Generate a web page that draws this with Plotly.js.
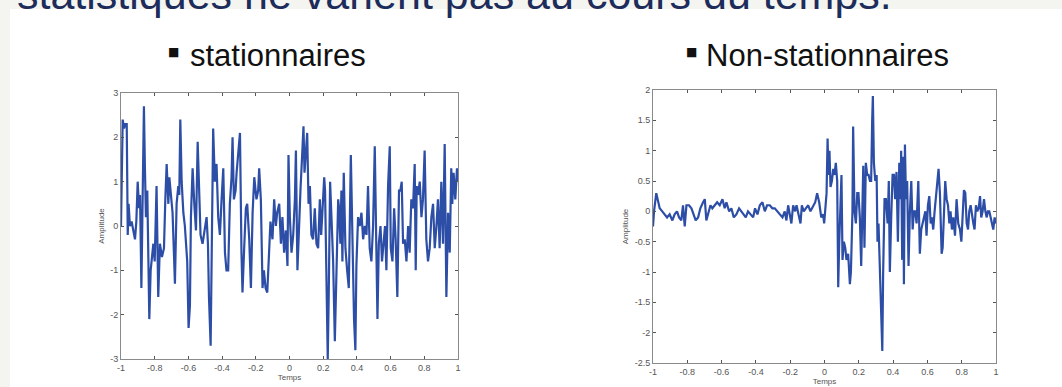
<!DOCTYPE html>
<html>
<head>
<meta charset="utf-8">
<script src="https://cdn.plot.ly/plotly-3.0.1.min.js"></script>
<style>
html,body{margin:0;padding:0;background:#f4f5f0;}
#chart{width:1062px;height:387px;}
</style>
</head>
<body>
<div id="chart"></div>
<script>
// ---- Data ----
const slideText = "statistiques ne varient pas au cours du temps.";
const titleLeft = "stationnaires";
const titleRight = "Non-stationnaires";
const xAxisTitle = "Temps";
const yAxisTitle = "Amplitude";

const timeStationary = [
-1.000,-0.996,-0.990,-0.982,-0.974,-0.966,-0.960,-0.955,-0.947,-0.937,-0.927,-0.917,-0.909,-0.901,-0.893,-0.887,-0.879,-0.872,-0.864,-0.858,
-0.852,-0.844,-0.838,-0.832,-0.824,-0.816,-0.808,-0.800,-0.794,-0.789,-0.779,-0.769,-0.757,-0.745,-0.737,-0.729,-0.719,-0.713,-0.706,-0.694,
-0.686,-0.680,-0.670,-0.660,-0.654,-0.648,-0.640,-0.630,-0.621,-0.613,-0.607,-0.599,-0.591,-0.585,-0.581,-0.575,-0.565,-0.555,-0.545,-0.536,
-0.528,-0.516,-0.506,-0.492,-0.484,-0.478,-0.468,-0.460,-0.453,-0.443,-0.433,-0.423,-0.413,-0.403,-0.393,-0.383,-0.374,-0.364,-0.354,-0.344,
-0.338,-0.330,-0.320,-0.314,-0.304,-0.294,-0.285,-0.279,-0.269,-0.259,-0.251,-0.239,-0.229,-0.219,-0.209,-0.196,-0.186,-0.180,-0.170,-0.160,
-0.152,-0.142,-0.132,-0.123,-0.113,-0.101,-0.091,-0.081,-0.073,-0.061,-0.051,-0.042,-0.032,-0.022,-0.012,-0.006,0.002,0.012,0.022,0.032,
0.038,0.047,0.057,0.065,0.075,0.083,0.089,0.097,0.105,0.113,0.121,0.130,0.140,0.150,0.160,0.170,0.180,0.188,0.196,0.206,
0.211,0.219,0.227,0.233,0.241,0.249,0.259,0.269,0.279,0.289,0.294,0.302,0.308,0.314,0.322,0.332,0.342,0.352,0.364,0.374,
0.383,0.391,0.397,0.407,0.417,0.427,0.437,0.447,0.457,0.466,0.476,0.486,0.496,0.506,0.516,0.522,0.530,0.540,0.549,0.557,
0.567,0.575,0.585,0.595,0.601,0.611,0.621,0.630,0.640,0.650,0.658,0.666,0.674,0.684,0.694,0.704,0.713,0.723,0.733,0.743,
0.749,0.755,0.763,0.773,0.783,0.792,0.802,0.812,0.822,0.832,0.842,0.852,0.862,0.872,0.881,0.891,0.901,0.911,0.921,0.931,
0.941,0.951,0.960,0.966,0.974,0.984,0.994,1.000
];
const ampStationary = [
0.0,1.5,2.4,2.2,2.3,2.3,-0.2,0.5,0.0,0.1,-0.1,-0.3,0.1,1.0,0.4,0.7,-1.4,0.5,2.7,1.3,
0.2,0.8,-0.9,-2.1,-1.0,-0.6,-0.4,-0.8,0.5,0.9,-1.6,-0.4,-0.7,-0.5,0.6,1.4,0.5,1.1,0.8,0.3,
-0.6,-1.3,0.5,0.9,0.7,2.4,1.0,0.3,0.0,-0.5,-0.8,-2.3,-1.8,0.2,0.8,1.3,0.5,-0.1,1.9,0.5,
-0.2,-0.4,-0.1,0.2,-0.4,-1.6,-2.7,-0.5,2.2,1.0,1.4,0.2,-0.2,0.6,1.3,-0.6,-1.0,-1.0,0.5,1.1,
2.0,0.6,0.8,1.2,1.7,2.1,-0.6,-1.5,-0.5,0.4,0.5,-0.3,-1.4,0.3,1.1,0.6,0.8,1.3,0.6,-1.4,
-1.0,-1.4,-1.5,-0.7,0.1,-0.3,0.6,0.0,0.3,0.5,-0.4,0.2,-0.6,-0.1,-0.9,1.6,0.2,-0.6,-0.2,0.6,
1.7,-1.0,0.2,0.8,1.6,2.25,1.2,1.8,2.1,0.5,0.9,-0.2,-0.3,0.4,-0.4,-0.5,0.6,-0.2,0.3,1.1,
0.8,-0.8,-3.0,-1.5,1.0,0.2,-0.8,-2.6,-1.2,0.6,0.4,-0.4,0.8,-0.8,1.2,-0.5,-1.0,-1.4,1.6,-0.5,
-2.1,-2.8,-0.9,0.2,0.0,0.3,-0.3,0.0,-0.2,0.9,-0.5,-0.8,0.0,1.8,-0.2,-2.1,-0.4,0.0,-0.8,-0.4,
0.0,-1.0,0.9,1.8,-0.5,-0.8,0.4,-0.3,-1.6,0.8,0.8,1.0,-0.4,-0.3,-0.8,0.0,-0.6,0.6,0.4,1.4,
-1.0,0.9,0.7,1.0,0.2,0.6,1.7,-0.3,-0.8,-0.5,0.2,0.5,-0.5,0.0,0.6,-0.5,1.0,-0.4,1.85,-1.6,
0.3,-0.6,1.3,0.5,1.2,0.6,1.3,1.0
];

const timeNonStationary = [
-1.000,-0.994,-0.981,-0.971,-0.961,-0.946,-0.932,-0.918,-0.903,-0.887,-0.874,-0.860,-0.848,-0.835,-0.825,-0.815,-0.805,-0.790,-0.776,-0.763,
-0.751,-0.737,-0.724,-0.708,-0.698,-0.689,-0.679,-0.665,-0.654,-0.640,-0.626,-0.611,-0.595,-0.582,-0.572,-0.556,-0.543,-0.529,-0.514,-0.498,
-0.484,-0.471,-0.459,-0.446,-0.432,-0.416,-0.405,-0.391,-0.377,-0.362,-0.348,-0.335,-0.319,-0.304,-0.290,-0.276,-0.261,-0.245,-0.232,-0.222,
-0.212,-0.202,-0.193,-0.183,-0.171,-0.163,-0.152,-0.140,-0.132,-0.121,-0.109,-0.095,-0.082,-0.066,-0.054,-0.043,-0.031,-0.019,-0.008,-0.002,
0.004,0.012,0.018,0.023,0.029,0.035,0.043,0.051,0.058,0.066,0.074,0.080,0.086,0.093,0.099,0.105,0.113,0.121,0.128,0.138,
0.148,0.154,0.163,0.167,0.175,0.183,0.191,0.198,0.206,0.214,0.220,0.226,0.233,0.241,0.249,0.257,0.265,0.272,0.278,0.282,
0.288,0.296,0.304,0.309,0.315,0.323,0.331,0.337,0.342,0.350,0.358,0.368,0.375,0.381,0.389,0.397,0.405,0.412,0.420,0.428,
0.436,0.444,0.447,0.453,0.459,0.463,0.469,0.475,0.482,0.490,0.498,0.506,0.514,0.521,0.529,0.537,0.547,0.556,0.564,0.572,
0.580,0.588,0.595,0.603,0.611,0.619,0.626,0.634,0.642,0.650,0.658,0.665,0.673,0.683,0.689,0.696,0.704,0.712,0.720,0.728,
0.735,0.743,0.751,0.761,0.770,0.780,0.790,0.798,0.805,0.813,0.821,0.829,0.837,0.844,0.852,0.860,0.868,0.875,0.883,0.891,
0.899,0.907,0.914,0.922,0.930,0.938,0.946,0.953,0.961,0.969,0.977,0.984,0.992,1.000
];
const ampNonStationary = [
-0.25,0.0,0.3,0.15,0.05,0.0,-0.05,-0.1,-0.05,-0.15,-0.05,0.0,-0.1,-0.15,0.1,-0.25,0.1,0.1,0.05,-0.05,
-0.15,-0.1,0.05,0.15,0.2,-0.15,-0.05,0.1,0.05,0.1,0.15,0.1,0.2,0.05,0.15,0.0,0.05,-0.1,-0.05,0.05,
0.0,-0.05,-0.1,0.0,-0.05,-0.1,0.05,-0.05,0.1,0.15,0.0,0.1,0.1,0.05,0.05,0.0,-0.05,-0.1,0.0,-0.15,
0.1,-0.1,-0.2,0.1,0.0,0.1,-0.05,-0.2,0.1,0.0,0.05,0.1,0.0,0.1,0.15,0.3,0.15,-0.1,-0.05,-0.2,
0.1,0.3,1.2,0.6,1.0,0.4,0.5,0.7,0.6,0.8,0.5,-1.25,-0.5,0.1,0.6,-0.8,-0.5,-0.6,-0.8,-0.7,
-1.2,-1.0,0.0,1.4,0.0,-0.2,0.3,0.3,-0.1,-0.9,0.0,0.75,-0.6,0.8,0.6,0.6,0.5,0.5,1.5,1.9,
0.8,0.5,0.6,-0.5,-0.2,-1.1,-1.8,-2.3,-1.0,0.2,0.2,-0.2,0.5,-1.0,-0.1,0.6,0.6,0.2,0.65,-0.5,
0.8,0.2,1.0,-0.8,0.9,-1.2,1.1,0.2,0.5,-0.9,0.0,0.5,-0.3,0.0,0.0,-0.2,0.5,-0.7,-0.3,-0.2,
-0.1,0.0,-0.4,0.1,0.25,-0.2,-0.1,-0.3,0.0,0.3,0.5,0.7,0.3,-0.7,-0.6,0.0,0.5,0.2,0.1,-0.2,
0.0,-0.3,-0.1,-0.4,0.2,-0.2,-0.3,-0.5,0.0,0.35,0.3,-0.2,-0.3,0.0,0.1,-0.1,-0.2,-0.3,0.1,0.0,
0.05,0.25,-0.1,0.0,0.2,0.0,-0.1,0.0,0.0,-0.1,-0.2,-0.3,-0.1,-0.2
];

const xTickVals = [-1,-0.8,-0.6,-0.4,-0.2,0,0.2,0.4,0.6,0.8,1];
const xTickText = ["-1","-0.8","-0.6","-0.4","-0.2","0","0.2","0.4","0.6","0.8","1"];
const yTickValsLeft = [-3,-2,-1,0,1,2,3];
const yTickTextLeft = ["-3","-2","-1","0","1","2","3"];
const yTickValsRight = [-2.5,-2,-1.5,-1,-0.5,0,0.5,1,1.5,2];
const yTickTextRight = ["-2.5","-2","-1.5","-1","-0.5","0","0.5","1","1.5","2"];

// ---- Styling ----
const W = 1062, H = 387;
const lineColor = "#2d4ea6";
const axisColor = "#8a8a8a";
const tickFont = {family: "Liberation Sans, Arial, sans-serif", size: 9, color: "#555"};
const titleFont = {family: "Liberation Sans, Arial, sans-serif", size: 8, color: "#555"};

function px(x){ return x / W; }
function py(y){ return 1 - y / H; }

function xAxis(domain){
  return {
    domain: domain, range: [-1, 1], tickmode: "array",
    tickvals: xTickVals, ticktext: xTickText,
    ticks: "inside", ticklen: 3, tickcolor: "#555", tickwidth: 1,
    showline: true, linecolor: axisColor, linewidth: 1, mirror: "ticks",
    showgrid: false, zeroline: false, tickfont: tickFont,
    title: {text: xAxisTitle, font: titleFont, standoff: 2}
  };
}
function yAxis(domain, range, vals, text, anchor){
  return {
    domain: domain, range: range, tickmode: "array",
    tickvals: vals, ticktext: text, anchor: anchor,
    ticks: "inside", ticklen: 3, tickcolor: "#555", tickwidth: 1,
    showline: true, linecolor: axisColor, linewidth: 1, mirror: "ticks",
    showgrid: false, zeroline: false, tickfont: tickFont,
    title: {text: yAxisTitle, font: titleFont, standoff: 4}
  };
}

const traces = [
  {x: timeStationary, y: ampStationary, type: "scatter", mode: "lines",
   line: {color: lineColor, width: 2.2}, xaxis: "x", yaxis: "y", hoverinfo: "skip"},
  {x: timeNonStationary, y: ampNonStationary, type: "scatter", mode: "lines",
   line: {color: lineColor, width: 2.2}, xaxis: "x2", yaxis: "y2", hoverinfo: "skip"}
];

const bigFont = {family: "Liberation Sans, Arial, sans-serif", size: 31, color: "#111"};

const layout = {
  width: W, height: H,
  margin: {l: 0, r: 0, t: 0, b: 0, pad: 0},
  paper_bgcolor: "#f4f5f0",
  plot_bgcolor: "#ffffff",
  showlegend: false,
  xaxis: Object.assign(xAxis([px(121), px(458)]), {anchor: "y"}),
  yaxis: yAxis([py(359), py(93)], [-3, 3], yTickValsLeft, yTickTextLeft, "x"),
  xaxis2: Object.assign(xAxis([px(653), px(996)]), {anchor: "y2"}),
  yaxis2: yAxis([py(363), py(90)], [-2.5, 2], yTickValsRight, yTickTextRight, "x2"),
  shapes: [
    {type: "rect", xref: "paper", yref: "paper", layer: "below",
     x0: px(10), x1: 1, y0: 0, y1: py(9), fillcolor: "#ffffff", line: {width: 0}}
  ],
  annotations: [
    {text: slideText, xref: "paper", yref: "paper", x: px(15), y: py(20),
     xanchor: "left", yanchor: "bottom", showarrow: false,
     font: {family: "Liberation Sans, Arial, sans-serif", size: 43, color: "#1d2c5b"}},
    {text: "■", xref: "paper", yref: "paper", x: px(173), y: py(52),
     xanchor: "center", yanchor: "middle", showarrow: false,
     font: {family: "DejaVu Sans, sans-serif", size: 12, color: "#111"}},
    {text: titleLeft, xref: "paper", yref: "paper", x: px(188), y: py(56),
     xanchor: "left", yanchor: "middle", showarrow: false, font: bigFont},
    {text: "■", xref: "paper", yref: "paper", x: px(691), y: py(52),
     xanchor: "center", yanchor: "middle", showarrow: false,
     font: {family: "DejaVu Sans, sans-serif", size: 12, color: "#111"}},
    {text: titleRight, xref: "paper", yref: "paper", x: px(704), y: py(56),
     xanchor: "left", yanchor: "middle", showarrow: false, font: bigFont}
  ]
};

Plotly.newPlot("chart", traces, layout, {staticPlot: true, displayModeBar: false});
</script>
</body>
</html>
